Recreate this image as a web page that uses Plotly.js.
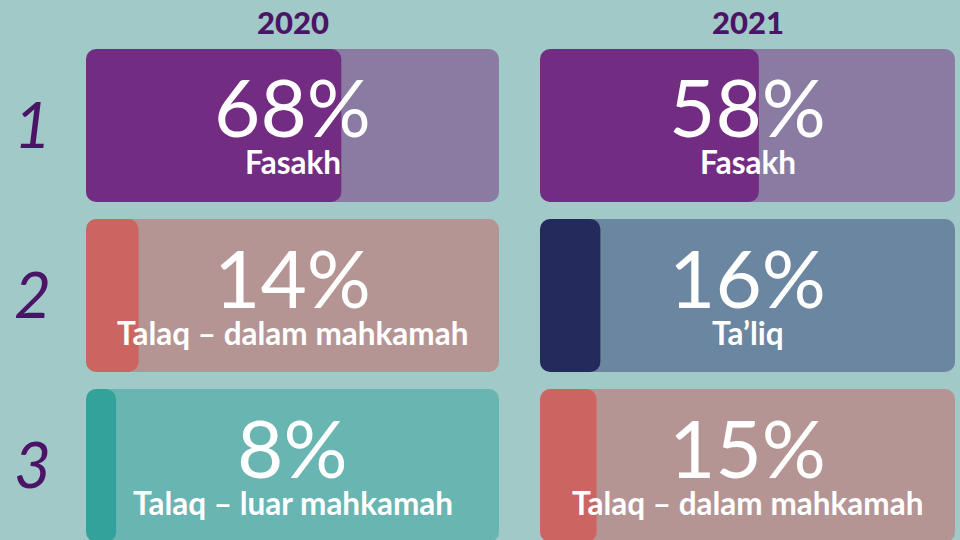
<!DOCTYPE html>
<html>
<head>
<meta charset="utf-8">
<script src="https://cdn.plot.ly/plotly-3.0.1.min.js"></script>
<style>html,body{margin:0;padding:0;background:#a1c9c8;}#chart{width:960px;height:540px;}</style>
</head>
<body>
<div id="chart"></div>
<script>
// ---- data ----
const years = ['2020', '2021'];
const ranks = ['1', '2', '3'];
const labels2020 = ['Fasakh', 'Talaq – dalam mahkamah', 'Talaq – luar mahkamah'];
const values2020 = [68, 14, 8];
const labels2021 = ['Fasakh', 'Ta’liq', 'Talaq – dalam mahkamah'];
const values2021 = [58, 16, 15];

// ---- styling ----
const SCALE_MAX = 110;
const BG = '#a1c9c8';
const TEXT_PURPLE = '#4b1466';
const palette = {
  'Fasakh': {dark: '#722d83', light: '#8a7ba3'},
  'Talaq – dalam mahkamah': {dark: '#cc6462', light: '#b59593'},
  'Talaq – luar mahkamah': {dark: '#32a29b', light: '#69b5b2'},
  'Ta’liq': {dark: '#242a5b', light: '#6b86a0'}
};

const columns = [
  {labels: labels2020, values: values2020, xa: 'x', fa: 'x3'},
  {labels: labels2021, values: values2021, xa: 'x2', fa: 'x4'}
];

const traces = [];
const annotations = [];
columns.forEach((col, ci) => {
  // background panel (rounded on the right end)
  traces.push({
    type: 'bar', orientation: 'h', xaxis: col.xa, yaxis: 'y',
    y: ranks, x: ranks.map(() => SCALE_MAX - 4), base: ranks.map(() => 4),
    width: 0.9,
    marker: {color: col.labels.map(l => palette[l].light), cornerradius: 10, line: {width: 0}},
    hoverinfo: 'skip', showlegend: false
  });
  // value fill, on a reversed overlay axis so its rounded end sits on the panel's left edge
  traces.push({
    type: 'bar', orientation: 'h', xaxis: col.fa, yaxis: 'y',
    y: ranks, x: col.values, base: col.values.map(v => SCALE_MAX - v),
    width: 0.9,
    marker: {color: col.labels.map(l => palette[l].dark), cornerradius: 10, line: {width: 0}},
    hoverinfo: 'skip', showlegend: false
  });
  // year header
  annotations.push({
    xref: col.xa + ' domain', yref: 'paper', x: 0.5, y: 1, yshift: -22,
    yanchor: 'middle', showarrow: false, text: years[ci],
    font: {family: 'Lato', size: 31, weight: 900, color: TEXT_PURPLE}
  });
  ranks.forEach((r, i) => {
    annotations.push({
      xref: col.xa + ' domain', yref: 'y', x: 0.5, y: i, yshift: 19,
      yanchor: 'middle', showarrow: false, text: col.values[i] + '%',
      font: {family: 'Lato', size: 80, weight: 400, color: '#ffffff'}
    });
    annotations.push({
      xref: col.xa + ' domain', yref: 'y', x: 0.5, y: i, yshift: -37,
      yanchor: 'middle', showarrow: false, text: col.labels[i],
      font: {family: 'Lato', size: 31.5, weight: 700, color: '#ffffff'}
    });
  });
});

const dom1 = [86 / 960, 499 / 960];
const dom2 = [540 / 960, 955 / 960];
const hiddenX = (domain, range, overlay) => {
  const a = {domain: domain, range: range, visible: false, fixedrange: true, anchor: 'y'};
  if (overlay) a.overlaying = overlay;
  return a;
};

const layout = {
  width: 960, height: 540,
  margin: {l: 0, r: 0, t: 0, b: 0},
  paper_bgcolor: BG, plot_bgcolor: BG,
  barmode: 'overlay',
  showlegend: false,
  xaxis: hiddenX(dom1, [0, SCALE_MAX]),
  xaxis2: hiddenX(dom2, [0, SCALE_MAX]),
  xaxis3: hiddenX(dom1, [SCALE_MAX, 0], 'x'),
  xaxis4: hiddenX(dom2, [SCALE_MAX, 0], 'x2'),
  yaxis: {
    type: 'category', range: [2.438, -0.738], anchor: 'x',
    showgrid: false, zeroline: false, showline: false, ticks: '',
    ticklabelstandoff: 34,
    tickfont: {family: 'Lato', size: 64, style: 'italic', color: TEXT_PURPLE},
    fixedrange: true
  },
  annotations: annotations
};

Plotly.newPlot('chart', traces, layout, {displayModeBar: false, staticPlot: true});
</script>
</body>
</html>
